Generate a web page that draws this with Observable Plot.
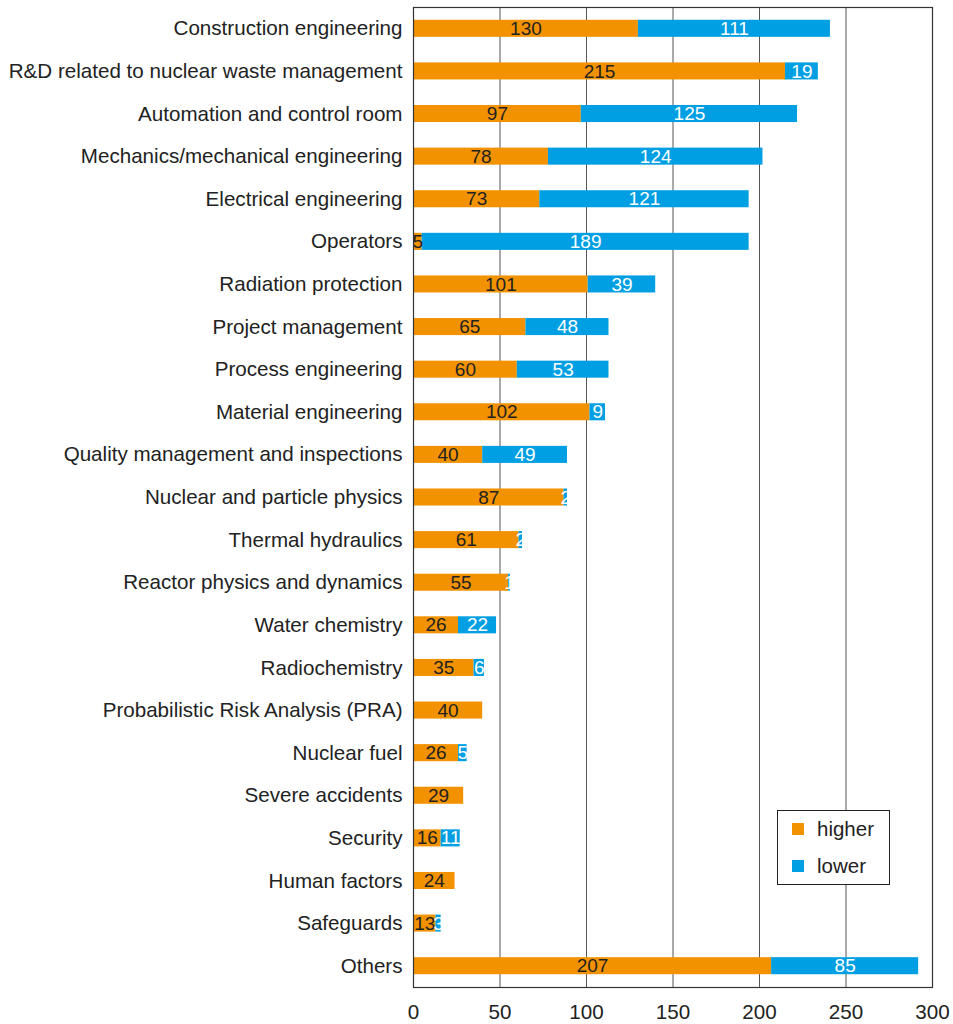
<!DOCTYPE html>
<html>
<head>
<meta charset="utf-8">
<script src="https://cdn.jsdelivr.net/npm/d3@7"></script>
<script src="https://cdn.jsdelivr.net/npm/@observablehq/plot@0.6"></script>
<style>
  body { margin: 0; background: #fff; font-family: "Liberation Sans", Arial, sans-serif; }
  #wrap { position: relative; width: 953px; height: 1024px; }
  #legend { position: absolute; left: 777px; top: 810px; width: 111px; height: 73px; border: 1.2px solid #222; background: #fff; font-size: 20.5px; color: #222; }
  .li { position: absolute; left: 14px; display: flex; align-items: center; }
  .sw { width: 12px; height: 12px; margin-right: 13px; }
</style>
</head>
<body>
<div id="wrap">
  <div id="chart"></div>
  <div id="legend">
    <div class="li" style="top:6px"><div class="sw" style="background:#F39200"></div>higher</div>
    <div class="li" style="top:43px"><div class="sw" style="background:#009FE3"></div>lower</div>
  </div>
</div>
<script>
const categories = [
  "Construction engineering",
  "R&D related to nuclear waste management",
  "Automation and control room",
  "Mechanics/mechanical engineering",
  "Electrical engineering",
  "Operators",
  "Radiation protection",
  "Project management",
  "Process engineering",
  "Material engineering",
  "Quality management and inspections",
  "Nuclear and particle physics",
  "Thermal hydraulics",
  "Reactor physics and dynamics",
  "Water chemistry",
  "Radiochemistry",
  "Probabilistic Risk Analysis (PRA)",
  "Nuclear fuel",
  "Severe accidents",
  "Security",
  "Human factors",
  "Safeguards",
  "Others"
];
const higher = [130, 215, 97, 78, 73, 5, 101, 65, 60, 102, 40, 87, 61, 55, 26, 35, 40, 26, 29, 16, 24, 13, 207];
const lower  = [111, 19, 125, 124, 121, 189, 39, 48, 53, 9, 49, 2, 2, 1, 22, 6, 0, 5, 0, 11, 0, 3, 85];
const seriesNames = ["higher", "lower"];
const seriesColors = ["#F39200", "#009FE3"];
const xTicks = [0, 50, 100, 150, 200, 250, 300];

const rows = [];
categories.forEach((c, i) => {
  rows.push({cat: c, series: "higher", value: higher[i], start: 0, end: higher[i]});
  rows.push({cat: c, series: "lower", value: lower[i], start: higher[i], end: higher[i] + lower[i]});
});
const bars = rows.filter(d => d.value > 0);

const chart = Plot.plot({
  width: 953,
  height: 1024,
  marginLeft: 413,
  marginRight: 21,
  marginTop: 7,
  marginBottom: 37,
  style: {fontFamily: "'Liberation Sans', Arial, sans-serif", fontSize: "20.6px", color: "#222"},
  x: {domain: [0, 300], ticks: xTicks, label: null, tickSize: 0, tickPadding: 17},
  y: {domain: categories, label: null, tickSize: 0, tickPadding: 11, paddingInner: 0.6, paddingOuter: 0.3, round: false},
  color: {domain: seriesNames, range: seriesColors},
  marks: [
    Plot.ruleX(xTicks.filter(t => t > 0 && t < 300), {stroke: "#555", strokeWidth: 1}),
    Plot.barX(bars, {y: "cat", x1: "start", x2: "end", fill: "series"}),
    Plot.text(bars, {
      y: "cat",
      x: d => (d.start + d.end) / 2,
      text: d => String(d.value),
      fill: d => d.series === "higher" ? "#222" : "#fff",
      fontSize: 19
    }),
    Plot.frame({stroke: "#333", strokeWidth: 1.2})
  ]
});
document.getElementById("chart").appendChild(chart);
</script>
</body>
</html>
